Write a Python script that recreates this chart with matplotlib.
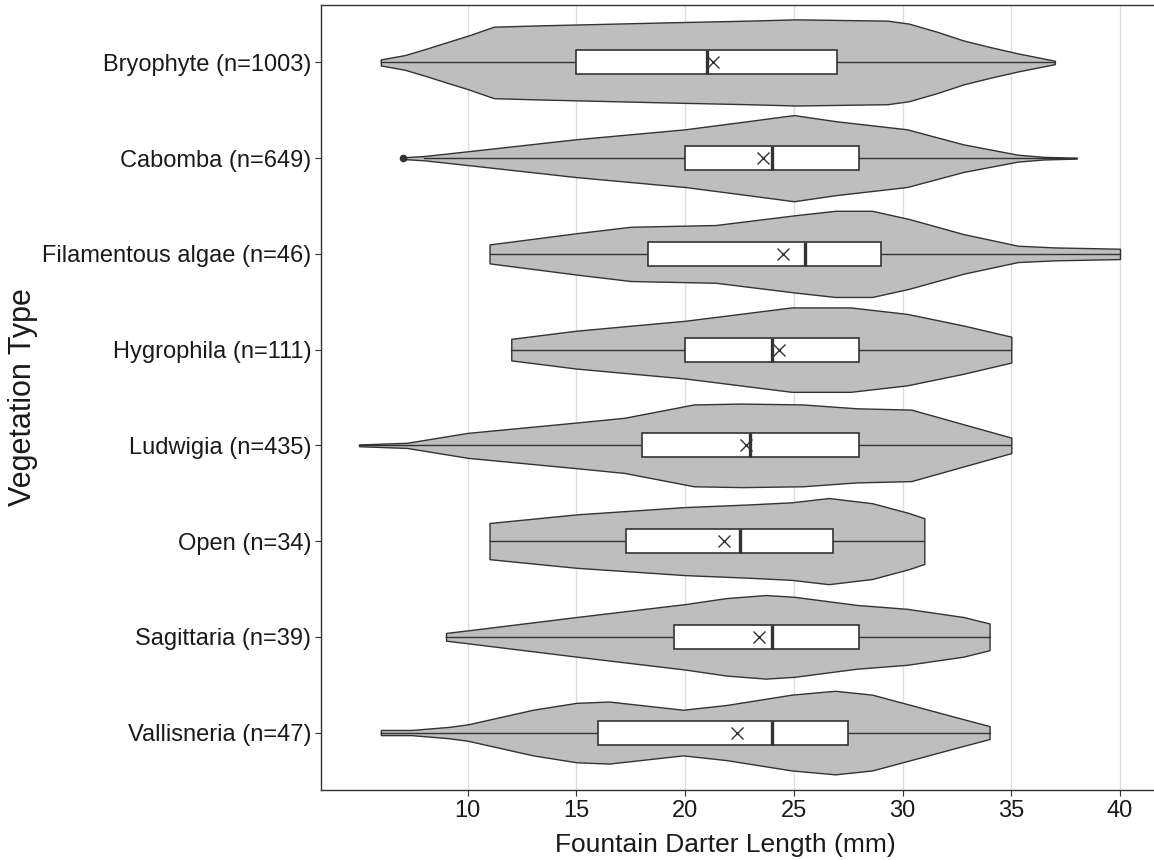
import numpy as np
import matplotlib.pyplot as plt

plt.rcParams['font.family'] = ['Liberation Sans', 'DejaVu Sans']

veg_types = ['Bryophyte', 'Cabomba', 'Filamentous algae', 'Hygrophila',
             'Ludwigia', 'Open', 'Sagittaria', 'Vallisneria']
n_fish = [1003, 649, 46, 111, 435, 34, 39, 47]

# violin outlines: length (mm) and relative density (1 = widest)
violin_len = [
    [6.0, 7.1, 8.1, 9.1, 10, 11.2, 13.3, 15, 19.2, 22.9, 25.1, 29.3, 30.3, 31.6, 32.8, 34.0, 35.3, 37.0],
    [7.0, 8.0, 10, 15, 20, 22.9, 25, 26.9, 30.2, 32.8, 35.3, 36.5, 38.0],
    [11.0, 13, 15, 17.5, 21.4, 25.1, 26.9, 28.6, 30.3, 32.8, 35.3, 37, 40.0],
    [12.0, 15, 20, 24.9, 27.6, 30.2, 32.8, 35.0],
    [5.0, 7.2, 10, 15, 17.2, 20.4, 22.6, 25.4, 27.9, 30.4, 32.8, 35.0],
    [11.0, 15, 20, 22.9, 24.9, 26.6, 28.6, 30.3, 31.0],
    [9.0, 10, 15, 20, 21.9, 23.7, 25, 27.9, 30.2, 32.8, 34.0],
    [6.0, 7.4, 9.1, 10, 13, 15, 16.5, 19.9, 21.9, 24.9, 26.9, 28.6, 30.3, 32.8, 34.0],
]
violin_dens = [
    [0.07, 0.17, 0.32, 0.48, 0.62, 0.83, 0.86, 0.88, 0.93, 0.97, 1.0, 0.97, 0.90, 0.71, 0.51, 0.36, 0.21, 0.04],
    [0.02, 0.05, 0.16, 0.44, 0.67, 0.86, 1.0, 0.86, 0.67, 0.32, 0.08, 0.03, 0.01],
    [0.22, 0.35, 0.48, 0.63, 0.67, 0.90, 1.0, 1.0, 0.81, 0.46, 0.19, 0.15, 0.12],
    [0.25, 0.44, 0.67, 0.98, 0.98, 0.83, 0.56, 0.30],
    [0.02, 0.06, 0.29, 0.53, 0.64, 0.95, 0.97, 0.95, 0.86, 0.83, 0.49, 0.18],
    [0.42, 0.62, 0.79, 0.85, 0.90, 1.0, 0.88, 0.65, 0.53],
    [0.09, 0.15, 0.46, 0.76, 0.90, 0.97, 0.93, 0.74, 0.65, 0.46, 0.31],
    [0.06, 0.06, 0.13, 0.19, 0.53, 0.69, 0.72, 0.53, 0.64, 0.88, 0.97, 0.88, 0.65, 0.31, 0.15],
]

q1 = [15, 20, 18.3, 20, 18, 17.3, 19.5, 16]
medians = [21, 24, 25.5, 24, 23, 22.5, 24, 24]
q3 = [27, 28, 29, 28, 28, 26.8, 28, 27.5]
whisk_lo = [6, 8, 11, 12, 5, 11, 9, 6]
whisk_hi = [37, 38, 40, 35, 35, 31, 34, 34]
means = [21.3, 23.6, 24.5, 24.3, 22.8, 21.8, 23.4, 22.4]
outliers = [[], [7], [], [], [], [], [], []]

edge = '#333333'

fig = plt.figure(figsize=(11.54, 8.6), dpi=100)
ax = fig.add_axes([0.2782, 0.0814, 0.7253, 0.9128])
ax.set_axisbelow(True)

for i, name in enumerate(veg_types):
    x = np.array(violin_len[i])
    w = 0.45 * np.array(violin_dens[i])
    ax.fill_between(x, i - w, i + w, facecolor='#BEBEBE', edgecolor=edge,
                    linewidth=1.0, zorder=2)
    # whisker line
    ax.plot([whisk_lo[i], whisk_hi[i]], [i, i], color=edge, lw=1.0, zorder=3)
    # box
    ax.add_patch(plt.Rectangle((q1[i], i - 0.125), q3[i] - q1[i], 0.25,
                               facecolor='white', edgecolor=edge, lw=1.2, zorder=4))
    ax.plot([medians[i], medians[i]], [i - 0.125, i + 0.125], color=edge,
            lw=2.4, solid_capstyle='butt', zorder=5)
    ax.plot(means[i], i, marker='x', ms=8, mew=1.0, color=edge, zorder=6)
    if outliers[i]:
        ax.plot(outliers[i], [i] * len(outliers[i]), 'o', ms=4.5, color=edge, zorder=6)

ax.set_xlim(3.25, 41.75)
ax.set_ylim(7.6, -0.6)
ax.set_xticks([10, 15, 20, 25, 30, 35, 40])
ax.set_yticks(range(len(veg_types)))
ax.set_yticklabels([f'{v} (n={n})' for v, n in zip(veg_types, n_fish)])
ax.xaxis.grid(True, color='#DEDEDE', linewidth=1.0)
ax.tick_params(axis='both', labelsize=17, length=4, color=edge, labelcolor='#1A1A1A', pad=3)

for side in ['left', 'bottom', 'top']:
    ax.spines[side].set_color(edge)
    ax.spines[side].set_linewidth(1.0)
ax.spines['right'].set_visible(False)

ax.set_xlabel('Fountain Darter Length (mm)', fontsize=19, color='#1A1A1A', va='center')
ax.set_ylabel('Vegetation Type', fontsize=22, color='#1A1A1A', va='center')
ax.xaxis.set_label_coords(0.483, -0.070)
ax.yaxis.set_label_coords(-0.356, 0.5)

fig.savefig('out.png', dpi=100)
